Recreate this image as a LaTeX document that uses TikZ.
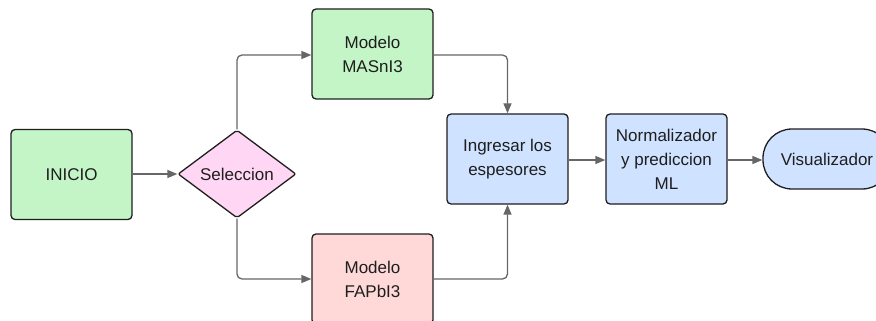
\documentclass[tikz,border=0pt]{standalone}
\usepackage{fontspec}
\setmainfont{Liberation Sans}
\usetikzlibrary{arrows.meta,shapes.geometric}
\definecolor{boxgreen}{HTML}{C3F5C6}
\definecolor{boxpink}{HTML}{FFD6F4}
\definecolor{boxred}{HTML}{FFD8D8}
\definecolor{boxblue}{HTML}{CFE2FF}
\definecolor{edgedark}{HTML}{1E1E1E}
\definecolor{linkgray}{HTML}{666666}
\begin{document}
\begin{tikzpicture}[x=1pt,y=1pt,
  every node/.style={font=\fontsize{17}{24}\selectfont, text=edgedark, align=center},
  box/.style={draw=edgedark, line width=1.3pt, rounded corners=4pt, minimum width=121pt, minimum height=90pt, inner sep=0pt},
  decision/.style={diamond, draw=edgedark, line width=1.3pt, rounded corners=2pt, fill=boxpink, minimum width=118pt, minimum height=88pt, aspect=1.34, inner sep=0pt},
  terminal/.style={draw=edgedark, line width=1.3pt, rounded corners=29pt, fill=boxblue, minimum width=128pt, minimum height=60pt, inner sep=0pt},
  link/.style={draw=linkgray, line width=1.3pt, rounded corners=5pt, -{Triangle[length=10pt,width=8pt]}, color=linkgray}
]
\useasboundingbox (0,0) rectangle (876,-321);

% start, choice and the two material models
\node[box, fill=boxgreen] (inicio) at (71.5,-174.5) {INICIO};
\node[decision] (sel) at (237,-174) {Seleccion};
\node[box, fill=boxgreen] (masn) at (372.5,-54) {Modelo\\MASnI3};
\node[box, fill=boxred] (fapb) at (372.5,-279) {Modelo\\FAPbI3};

% thickness input, prediction and output
\node[box, fill=boxblue] (ing) at (507.5,-159) {Ingresar los\\espesores};
\node[box, fill=boxblue] (norm) at (666.5,-159) {Normalizador\\y prediccion\\ML};
\node[terminal] (vis) at (827,-159) {Visualizador};

\draw[link] (inicio.east |- 0,-174) -- (sel.west);
\draw[link] (sel.north) |- (masn.west |- 0,-55);
\draw[link] (sel.south) |- (fapb.west |- 0,-279);
\draw[link] (masn.east |- 0,-55) -| (ing.north);
\draw[link] (fapb.east |- 0,-279) -| (ing.south);
\draw[link] (ing.east |- 0,-160) -- (norm.west |- 0,-160);
\draw[link] (norm.east |- 0,-160) -- (vis.west |- 0,-160);
\end{tikzpicture}
\end{document}
